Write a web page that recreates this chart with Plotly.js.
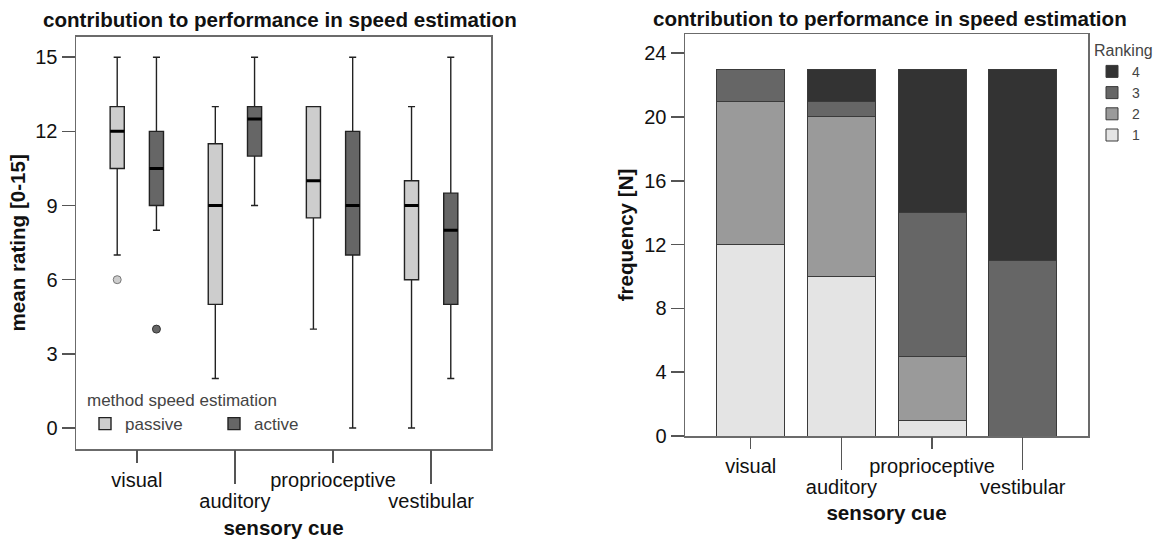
<!DOCTYPE html>
<html><head><meta charset="utf-8">
<script src="https://cdn.plot.ly/plotly-3.0.1.min.js"></script>
<style>html,body{margin:0;padding:0;background:#fff;} #chart{width:1159px;height:543px;}</style>
</head><body><div id="chart"></div>
<script>
// ---------- shared texts ----------
const chartTitle = 'contribution to performance in speed estimation';
const categories = ['visual', 'auditory', 'proprioceptive', 'vestibular'];
const xTitle = 'sensory cue';

// ---------- left: box plot ----------
const boxYTitle = 'mean rating [0-15]';
const legendTitleLeft = 'method speed estimation';
const methods = ['passive', 'active'];
const passiveLow    = [7, 2, 4, 0];
const passiveQ1     = [10.5, 5, 8.5, 6];
const passiveMedian = [12, 9, 10, 9];
const passiveQ3     = [13, 11.5, 13, 10];
const passiveHigh   = [15, 13, 13, 13];
const activeLow     = [8, 9, 0, 2];
const activeQ1      = [9, 11, 7, 5];
const activeMedian  = [10.5, 12.5, 9, 8];
const activeQ3      = [12, 13, 12, 9.5];
const activeHigh    = [15, 15, 15, 15];
const outlierCategory = ['visual', 'visual'];
const outlierMethod   = ['passive', 'active'];
const outlierValue    = [6, 4];
const boxYTicks = [0, 3, 6, 9, 12, 15];

// ---------- right: stacked bars ----------
const barYTitle = 'frequency [N]';
const legendTitleRight = 'Ranking';
const rankings = ['1', '2', '3', '4'];
const rank1 = [12, 10, 1, 0];
const rank2 = [9, 10, 4, 0];
const rank3 = [2, 1, 9, 11];
const rank4 = [0, 2, 9, 12];
const barYTicks = [0, 4, 8, 12, 16, 20, 24];

// ---------- styling ----------
const FONT = 'Liberation Sans, Arial, Helvetica, sans-serif';
const methodFill = {passive: '#cdcdcd', active: '#666666'};
const rankFill = ['#e4e4e4', '#9a9a9a', '#666666', '#333333'];
const tickFont = {family: FONT, size: 20, color: '#111'};
const titleFont = {family: FONT, size: 20.6, color: '#111', weight: 'bold'};
const boxgap = 0.2;
const dodge = (1 - boxgap) / 4;

const W = 1159, H = 543;
const px = v => v / W;
const py = v => 1 - v / H;

const leftDom = [px(76), px(491)];
const leftY = [py(449), py(36.7)];
const rightDom = [px(685), px(1088)];
const rightY = [py(436), py(34)];
const leftRange = [-0.62, 3.61];
const rightRange = [-0.725, 3.72];

const idx = categories.map((c, i) => i);
const evenIdx = idx.filter(i => i % 2 === 0);
const oddIdx = idx.filter(i => i % 2 === 1);

const boxStats = {
  passive: {low: passiveLow, q1: passiveQ1, med: passiveMedian, q3: passiveQ3, high: passiveHigh},
  active: {low: activeLow, q1: activeQ1, med: activeMedian, q3: activeQ3, high: activeHigh}
};

const traces = [];
methods.forEach(m => {
  const s = boxStats[m];
  traces.push({
    type: 'box', name: m, x: categories,
    q1: s.q1, median: s.med, q3: s.q3, lowerfence: s.low, upperfence: s.high,
    fillcolor: methodFill[m], line: {color: '#222', width: 1.4},
    whiskerwidth: 0.5, boxpoints: false,
    xaxis: 'x', yaxis: 'y', legend: 'legend', offsetgroup: m
  });
});
// thick median bars, drawn over each box in the same group slot
methods.forEach(m => {
  const s = boxStats[m];
  traces.push({
    type: 'box', name: m + ' median', x: categories, showlegend: false,
    q1: s.med, median: s.med, q3: s.med, lowerfence: s.med, upperfence: s.med,
    fillcolor: 'rgba(0,0,0,0)', line: {color: '#000', width: 3},
    whiskerwidth: 0, boxpoints: false,
    xaxis: 'x', yaxis: 'y', offsetgroup: m
  });
});
// outliers
traces.push({
  type: 'scatter', mode: 'markers', showlegend: false,
  x: outlierCategory.map((c, i) => categories.indexOf(c) + (outlierMethod[i] === 'passive' ? -dodge : dodge)),
  y: outlierValue,
  marker: {size: 8, color: outlierMethod.map(m => methodFill[m]),
           line: {color: outlierMethod.map(m => m === 'passive' ? '#777' : '#333'), width: 1}},
  xaxis: 'x2', yaxis: 'y'
});
// empty helper traces so tick axes are drawn
traces.push({type: 'scatter', x: [], y: [], xaxis: 'x3', yaxis: 'y', showlegend: false});
traces.push({type: 'scatter', x: [], y: [], xaxis: 'x5', yaxis: 'y2', showlegend: false});
traces.push({type: 'scatter', x: [], y: [], xaxis: 'x6', yaxis: 'y2', showlegend: false});

const rankValues = [rank1, rank2, rank3, rank4];
rankings.forEach((r, i) => {
  traces.push({
    type: 'bar', name: r, x: categories, y: rankValues[i],
    marker: {color: rankFill[i], line: {color: '#3a3a3a', width: 1}},
    xaxis: 'x4', yaxis: 'y2', legend: 'legend2'
  });
});

const frame = {showline: true, linecolor: '#6b6b6b', linewidth: 1.5, mirror: true,
               showgrid: false, zeroline: false, fixedrange: true};
const tickAxis = {type: 'linear', showline: false, showgrid: false, zeroline: false,
                  ticks: 'outside', tickwidth: 1.5, tickcolor: '#555', tickfont: tickFont,
                  tickmode: 'array', fixedrange: true};

const layout = {
  width: W, height: H,
  margin: {l: 0, r: 0, t: 0, b: 0},
  paper_bgcolor: '#fff', plot_bgcolor: '#fff',
  font: {family: FONT, color: '#111'},
  boxmode: 'group', boxgap: boxgap, boxgroupgap: 0.64,
  barmode: 'stack', bargap: 0.25,
  hovermode: false,
  xaxis: Object.assign({}, frame, {type: 'category', domain: leftDom, anchor: 'y', range: leftRange,
        ticks: '', showticklabels: false}),
  xaxis2: Object.assign({}, tickAxis, {overlaying: 'x', anchor: 'y', range: leftRange,
        tickvals: evenIdx, ticktext: evenIdx.map(i => categories[i]), ticklen: 13}),
  xaxis3: Object.assign({}, tickAxis, {overlaying: 'x', anchor: 'y', range: leftRange,
        tickvals: oddIdx, ticktext: oddIdx.map(i => categories[i]), ticklen: 34,
        title: {text: xTitle, font: titleFont, standoff: 9}}),
  yaxis: Object.assign({}, frame, {domain: leftY, anchor: 'x', range: [-0.85, 15.83],
        tickmode: 'array', tickvals: boxYTicks, ticks: 'outside', ticklen: 13, tickwidth: 1.5,
        tickcolor: '#555', tickfont: tickFont,
        title: {text: boxYTitle, font: titleFont, standoff: 4}}),
  xaxis4: Object.assign({}, frame, {type: 'category', domain: rightDom, anchor: 'y2', range: rightRange,
        ticks: '', showticklabels: false}),
  xaxis5: Object.assign({}, tickAxis, {overlaying: 'x4', anchor: 'y2', range: rightRange,
        tickvals: evenIdx, ticktext: evenIdx.map(i => categories[i]), ticklen: 12}),
  xaxis6: Object.assign({}, tickAxis, {overlaying: 'x4', anchor: 'y2', range: rightRange,
        tickvals: oddIdx, ticktext: oddIdx.map(i => categories[i]), ticklen: 33,
        title: {text: xTitle, font: titleFont, standoff: 8}}),
  yaxis2: Object.assign({}, frame, {domain: rightY, anchor: 'x4', range: [0, 25.2],
        tickmode: 'array', tickvals: barYTicks, ticks: 'outside', ticklen: 13, tickwidth: 1.5,
        tickcolor: '#555', tickfont: tickFont,
        title: {text: barYTitle, font: titleFont, standoff: 5}}),
  legend: {x: px(85), y: py(384), xanchor: 'left', yanchor: 'top', orientation: 'h',
           bgcolor: 'rgba(0,0,0,0)', font: {family: FONT, size: 17, color: '#444'},
           title: {text: legendTitleLeft, side: 'top', font: {family: FONT, size: 17, color: '#444'}},
           entrywidth: 84, entrywidthmode: 'pixels', traceorder: 'normal'},
  legend2: {x: px(1092), y: py(35), xanchor: 'left', yanchor: 'top', orientation: 'v',
           bgcolor: 'rgba(0,0,0,0)', font: {family: FONT, size: 14, color: '#444'},
           title: {text: legendTitleRight, font: {family: FONT, size: 16, color: '#444'}},
           traceorder: 'reversed', tracegroupgap: 0},
  annotations: [
    {text: chartTitle, xref: 'paper', yref: 'paper', x: px(279.5), y: py(19), xanchor: 'center',
     yanchor: 'middle', showarrow: false, font: titleFont},
    {text: chartTitle, xref: 'paper', yref: 'paper', x: px(889.5), y: py(18), xanchor: 'center',
     yanchor: 'middle', showarrow: false, font: titleFont}
  ]
};

Plotly.newPlot('chart', traces, layout, {staticPlot: true, displayModeBar: false});
</script>
</body></html>
